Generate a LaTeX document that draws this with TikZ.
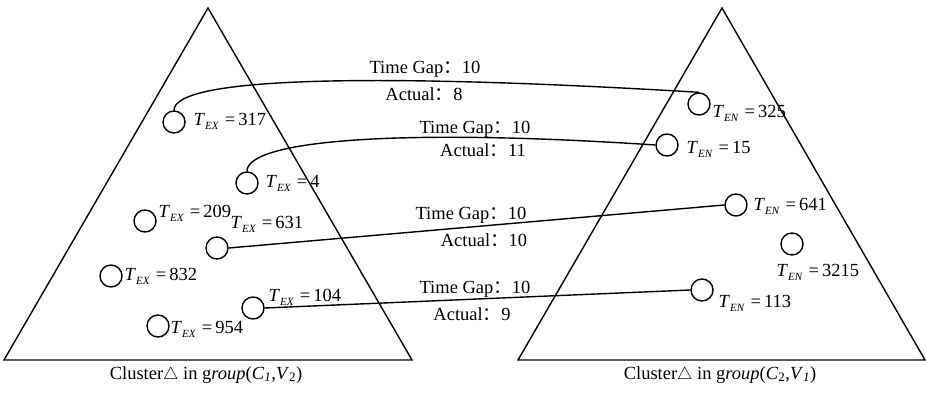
\documentclass[tikz,border=0pt]{standalone}
\usepackage{fontspec}
\setmainfont{Liberation Serif}
\newfontfamily\cjk{Noto Sans CJK SC}
\newcommand{\fwc}{{\cjk ：}}
\newcommand{\tEX}[1]{\textit{T}\raisebox{-4pt}{\fontsize{11}{11}\selectfont\textit{EX}}\hspace{6pt}=\hspace{3pt}#1}
\newcommand{\tEN}[1]{\textit{T}\raisebox{-4pt}{\fontsize{11}{11}\selectfont\textit{EN}}\hspace{6pt}=\hspace{3pt}#1}

\begin{document}
\begin{tikzpicture}[x=1pt,y=-1pt,line width=1.4pt,
  every node/.style={font=\fontsize{18.5}{22}\selectfont,inner sep=0pt},
  pt/.style={circle,draw,minimum size=22pt},
  lab/.style={anchor=base west},
  gap/.style={anchor=base}]
  \useasboundingbox (0,0) rectangle (926,396);
  % the two clusters
  \draw (208,8) -- (4,360) -- (412,360) -- cycle;
  \draw (722,8) -- (518,360) -- (925,360) -- cycle;
  \node[gap] (capL) at (206,379) {Cluster$\triangle$ in g\textit{roup}(\textit{C}\textsubscript{\textit{1}},\textit{V}\textsubscript{2})};
  \node[gap] (capR) at (720,379) {Cluster$\triangle$ in g\textit{roup}(\textit{C}\textsubscript{2},\textit{V}\textsubscript{\textit{1}})};

  % exits, left cluster
  \node[pt] (x317) at (174,122) {};
  \node[pt] (x4)   at (247,183) {};
  \node[pt] (x209) at (145,221) {};
  \node[pt] (x631) at (217,248) {};
  \node[pt] (x832) at (111,276) {};
  \node[pt] (x104) at (253,308) {};
  \node[pt] (x954) at (158,326) {};
  \node[lab] (l317) at (193,125) {\tEX{317}};
  \node[lab] (l4)   at (265,187) {\tEX{4}};
  \node[lab] (l209) at (158,217) {\tEX{209}};
  \node[lab] (l631) at (230,228) {\tEX{631}};
  \node[lab] (l832) at (124,280) {\tEX{832}};
  \node[lab] (l104) at (268,301) {\tEX{104}};
  \node[lab] (l954) at (170,333) {\tEX{954}};

  % entries, right cluster
  \node[pt] (n325)  at (699,104) {};
  \node[pt] (n15)   at (667,145) {};
  \node[pt] (n641)  at (736,205) {};
  \node[pt] (n3215) at (792,244) {};
  \node[pt] (n113)  at (702,290) {};
  \node[lab] (m325)  at (712,117) {\tEN{325}};
  \node[lab] (m15)   at (686,153) {\tEN{15}};
  \node[lab] (m641)  at (753,210) {\tEN{641}};
  \node[lab] (m3215) at (776,276) {\tEN{3215}};
  \node[lab] (m113)  at (718,307) {\tEN{113}};

  % links
  \draw (x317.north) .. controls (174,78) and (360,72) .. (n325.north);
  \draw (x4.north) .. controls (247,140) and (400,128) .. (n15.west);
  \draw (x631.east) -- (n641.west);
  \draw (x104.east) -- (n113.west);
  \node[gap] (g1) at (425,74)  {Time Gap\fwc 10};
  \node[gap] (a1) at (424,100) {Actual\fwc 8};
  \node[gap] (g2) at (475,133) {Time Gap\fwc 10};
  \node[gap] (a2) at (483,156) {Actual\fwc 11};
  \node[gap] (g3) at (471,219) {Time Gap\fwc 10};
  \node[gap] (a3) at (484,246) {Actual\fwc 10};
  \node[gap] (g4) at (475,293) {Time Gap\fwc 10};
  \node[gap] (a4) at (472,320) {Actual\fwc 9};
\end{tikzpicture}
\end{document}
